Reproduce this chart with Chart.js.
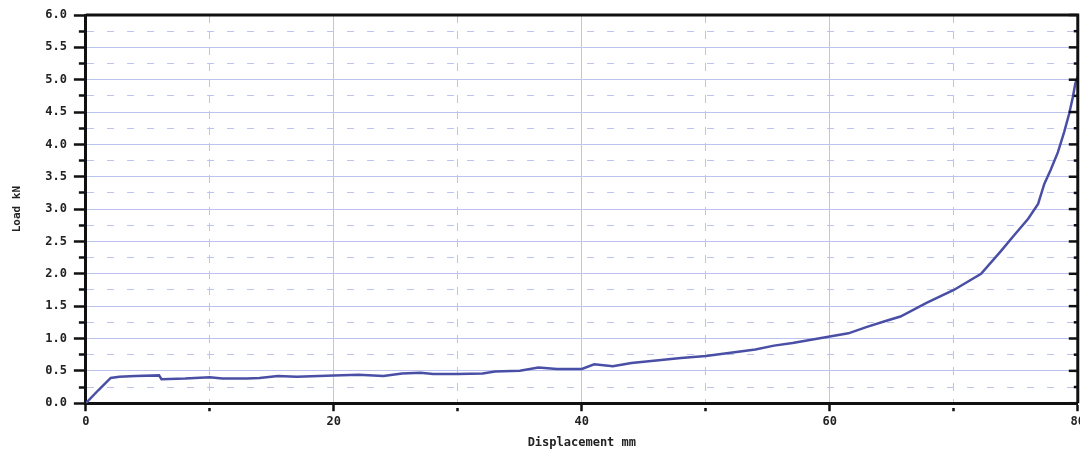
<!DOCTYPE html>
<html>
<head>
<meta charset="utf-8">
<script src="https://cdn.jsdelivr.net/npm/chart.js@4/dist/chart.umd.min.js"></script>
<style>
  html, body { margin: 0; padding: 0; background: #fff; overflow: hidden; }
  #wrap { width: 1088px; height: 454px; }
</style>
</head>
<body>
<div id="wrap"><canvas id="chart"></canvas></div>
<script>
// displacement (mm) vs load (kN)
const displacement = [0, 1, 2, 2.7, 4, 5.9, 6.1, 8, 10, 11, 13, 14, 15.5, 17, 20, 22, 24, 25.5, 27, 28,
  30, 32, 33, 35, 36.5, 38, 40, 41, 42.5, 44, 46, 48, 50, 52, 54, 55.5, 57, 58.5, 60, 61.5,
  63, 64.5, 65.7, 67.8, 70, 72.2, 73.8, 74.8, 76, 76.8, 77.3, 77.8, 78.4, 78.9, 79.3, 79.6, 79.8, 80];
const load = [0, 0.2, 0.39, 0.41, 0.42, 0.43, 0.37, 0.38, 0.40, 0.38, 0.38, 0.39, 0.42, 0.41, 0.43, 0.44, 0.42, 0.46, 0.47, 0.45,
  0.45, 0.46, 0.49, 0.50, 0.55, 0.53, 0.53, 0.60, 0.57, 0.62, 0.66, 0.70, 0.73, 0.78, 0.83, 0.89, 0.93, 0.98, 1.03, 1.08,
  1.18, 1.27, 1.34, 1.55, 1.75, 2.0, 2.35, 2.58, 2.85, 3.08, 3.39, 3.6, 3.88, 4.19, 4.47, 4.73, 4.94, 5.05];

const xLabels = [0, 20, 40, 60, 80];
const yLabels = [0, 0.5, 1, 1.5, 2, 2.5, 3, 3.5, 4, 4.5, 5, 5.5, 6];

const gridBlue = "#bcc3ee";
const labelFont = { family: "DejaVu Sans Mono", weight: "bold", size: 12 };

const isMajorY = v => yLabels.some(l => Math.abs(l - v) < 1e-6);
const isMajorX = v => xLabels.includes(v);

// closes the box on top/right and puts the inward ticks on the right edge
const framePlugin = {
  id: "frame",
  afterDraw(chart) {
    const { ctx, chartArea: a, scales } = chart;
    ctx.save();
    ctx.strokeStyle = "#111";
    ctx.lineWidth = 3;
    ctx.beginPath();
    ctx.moveTo(a.left, a.top);
    ctx.lineTo(a.right, a.top);
    ctx.lineTo(a.right, a.bottom);
    ctx.stroke();
    ctx.lineWidth = 2.5;
    scales.y.ticks.forEach(t => {
      const y = scales.y.getPixelForValue(t.value);
      const len = isMajorY(t.value) ? 9 : 4;
      ctx.beginPath();
      ctx.moveTo(a.right, y);
      ctx.lineTo(a.right - len, y);
      ctx.stroke();
    });
    ctx.restore();
  }
};

new Chart(document.getElementById("chart"), {
  type: "line",
  data: {
    datasets: [{
      data: displacement.map((d, i) => ({ x: d, y: load[i] })),
      borderColor: "#4a4fa6",
      borderWidth: 2.5,
      pointRadius: 0,
      tension: 0,
      fill: false,
    }],
  },
  options: {
    responsive: true,
    maintainAspectRatio: false,
    animation: false,
    layout: { padding: { left: 8, top: 15, right: 0, bottom: 0 } },
    plugins: { legend: { display: false }, tooltip: { enabled: false } },
    scales: {
      x: {
        type: "linear",
        min: 0,
        max: 80,
        ticks: {
          stepSize: 10,
          autoSkip: false,
          maxRotation: 0,
          padding: 3,
          color: "#222",
          font: labelFont,
          callback: v => (isMajorX(v) ? String(v) : ""),
        },
        grid: {
          color: gridBlue,
          lineWidth: 1,
          tickLength: 8,
          tickWidth: 2.5,
          tickColor: "#111",
          tickBorderDash: c => (c.tick && isMajorX(c.tick.value) ? [] : [0, 3, 100, 0]),
        },
        border: {
          color: "#111",
          width: 3,
          dash: c => (c.tick && !isMajorX(c.tick.value) ? [8, 8] : []),
        },
        title: {
          display: true,
          text: "Displacement mm",
          color: "#222",
          font: { family: "DejaVu Sans Mono", weight: "bold", size: 12 },
          padding: { top: 4, bottom: 4 },
        },
      },
      y: {
        type: "linear",
        min: 0,
        max: 6,
        ticks: {
          stepSize: 0.25,
          autoSkip: false,
          padding: 7,
          color: "#222",
          font: labelFont,
          callback: v => (isMajorY(v) ? v.toFixed(1) : ""),
        },
        grid: {
          color: gridBlue,
          lineWidth: 1,
          tickLength: 12,
          tickWidth: 2.5,
          tickColor: "#111",
          tickBorderDash: c => (c.tick && isMajorY(c.tick.value) ? [] : [0, 5, 100, 0]),
        },
        border: {
          color: "#111",
          width: 3,
          dash: c => (c.tick && !isMajorY(c.tick.value) ? [7, 13] : []),
        },
        title: {
          display: true,
          text: "Load kN",
          color: "#222",
          font: { family: "DejaVu Sans Mono", weight: "bold", size: 11 },
          padding: { top: 3, bottom: 14 },
        },
      },
    },
  },
  plugins: [framePlugin],
});
</script>
</body>
</html>
